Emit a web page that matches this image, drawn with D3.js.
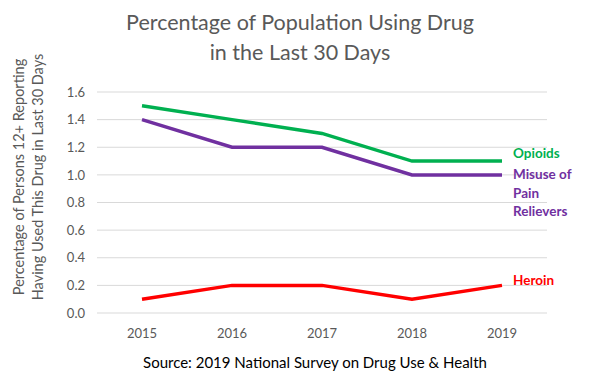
<!DOCTYPE html>
<html><head><meta charset="utf-8">
<script src="https://cdn.jsdelivr.net/npm/d3@7"></script>
<style>body{margin:0;background:#fff}svg{display:block}</style>
</head><body>
<svg id="c" width="600" height="378"></svg>
<script>
const years = ["2015","2016","2017","2018","2019"];
const opioids = [1.5, 1.4, 1.3, 1.1, 1.1];
const painRelievers = [1.4, 1.2, 1.2, 1.0, 1.0];
const heroin = [0.1, 0.2, 0.2, 0.1, 0.2];
const yTicks = [0.0,0.2,0.4,0.6,0.8,1.0,1.2,1.4,1.6];
const seriesNames = [["Opioids"],["Misuse of","Pain","Relievers"],["Heroin"]];
const seriesColors = ["#00B050","#7030A0","#FF0000"];

const svg = d3.select("#c");
const font = "Lato, 'Open Sans', sans-serif";
const x = d3.scaleBand().domain(years).range([97,547]);
const y = d3.scaleLinear().domain([0,1.6]).range([313,92]);

svg.append("g").selectAll("line").data(yTicks).join("line")
  .attr("x1",97).attr("x2",547).attr("y1",d=>y(d)).attr("y2",d=>y(d))
  .attr("stroke","#d9d9d9").attr("stroke-width",1);

const yAxis = svg.append("g").attr("transform","translate(97,0)")
  .call(d3.axisLeft(y).tickValues(yTicks).tickFormat(d3.format(".1f")).tickSize(0).tickPadding(12));
yAxis.select(".domain").remove();
yAxis.selectAll("text").attr("fill","#595959").style("font-size","13px").style("font-family",font);

const xAxis = svg.append("g").attr("transform","translate(0,313)")
  .call(d3.axisBottom(x).tickSize(0).tickPadding(16));
xAxis.select(".domain").remove();
xAxis.selectAll("text").attr("fill","#595959").style("font-size","13px").style("font-family",font);

const line = d3.line().x((d,i)=>x(years[i])+x.bandwidth()/2).y(d=>y(d));
[opioids,painRelievers,heroin].forEach((s,k)=>{
  svg.append("path").datum(s).attr("d",line).attr("fill","none")
    .attr("stroke",seriesColors[k]).attr("stroke-width",3.5);
});

// series labels
const labelY = [158, 179, 285];
seriesNames.forEach((lines,k)=>{
  const t = svg.append("text").attr("x",513).attr("y",labelY[k])
    .attr("fill",seriesColors[k]).style("font-family",font).style("font-weight","bold").style("font-size","13.5px");
  lines.forEach((l,i)=>t.append("tspan").attr("x",513).attr("dy",i?18.5:0).text(l));
});

// title
const title = svg.append("text").attr("text-anchor","middle").attr("fill","#595959")
  .style("font-family",font).style("font-size","21.5px");
title.append("tspan").attr("x",300).attr("y",30).text("Percentage of Population Using Drug");
title.append("tspan").attr("x",300).attr("y",60).text("in the Last 30 Days");

// y title
const yt = svg.append("text").attr("transform","translate(0,177) rotate(-90)").attr("text-anchor","middle")
  .attr("fill","#595959").style("font-family",font).style("font-size","14.5px");
yt.append("tspan").attr("x",0).attr("y",24).text("Percentage of Persons 12+ Reporting");
yt.append("tspan").attr("x",0).attr("y",43).text("Having Used This Drug in Last 30 Days");

svg.append("text").attr("x",315).attr("y",368).attr("text-anchor","middle").attr("fill","#000")
  .style("font-family",font).style("font-size","15px").text("Source: 2019 National Survey on Drug Use & Health");
</script>
</body></html>
